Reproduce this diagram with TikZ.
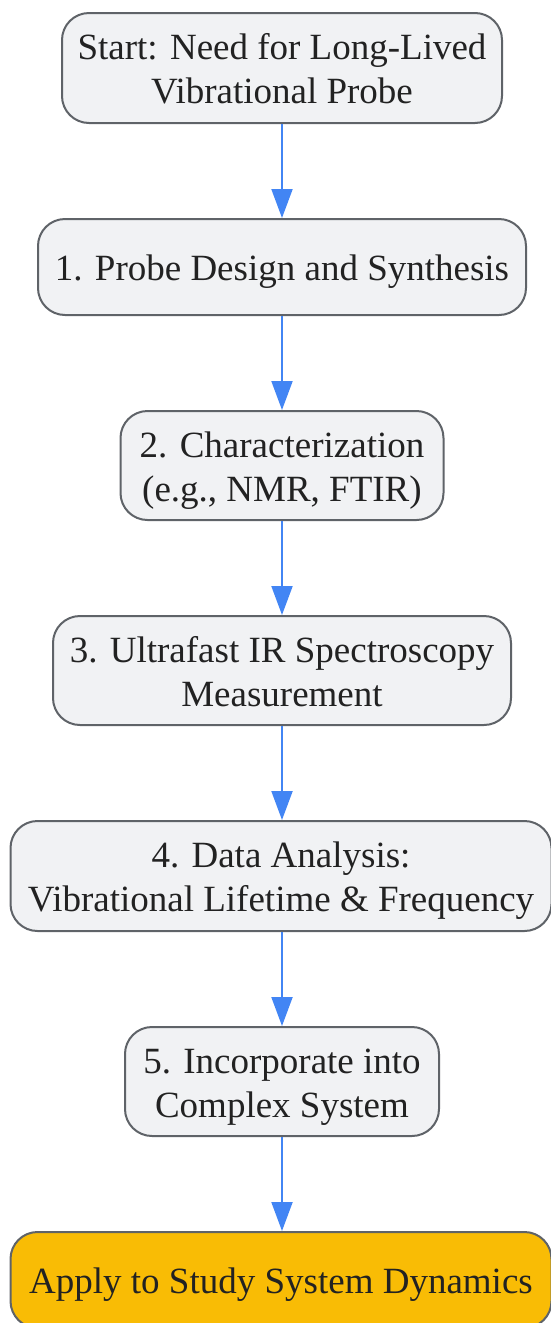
\documentclass[tikz,border=0pt]{standalone}
\usepackage{fontspec}
\setmainfont{Liberation Serif}
\usetikzlibrary{arrows.meta}
\definecolor{boxfill}{HTML}{F1F2F4}
\definecolor{boxdraw}{HTML}{5F6368}
\definecolor{arrowblue}{HTML}{4285F4}
\definecolor{finalfill}{HTML}{F9BC05}
\definecolor{textcol}{HTML}{222222}
\newcommand{\boxtxt}[1]{\raisebox{-5pt}[\height][\depth]{\begin{tabular}{@{}c@{}}#1\end{tabular}}}
\tikzset{
  flowbox/.style={draw=boxdraw, line width=2pt, fill=boxfill, rounded corners=27pt,
    align=center, inner sep=0pt, text=textcol,
    font=\fontsize{37}{44}\selectfont},
  finalbox/.style={flowbox, fill=finalfill},
  flowarrow/.style={draw=arrowblue, line width=2pt,
    -{Triangle[length=29pt,width=21pt]}}
}
\begin{document}
\begin{tikzpicture}[x=1pt,y=-1pt]
\useasboundingbox (0,0) rectangle (551,1323);
\clip (0,0) rectangle (551,1323);
\node[flowbox, minimum width=440pt, minimum height=110pt] (s) at (282,68) {\boxtxt{Start: Need for Long-Lived\\Vibrational Probe}};
\node[flowbox, minimum width=488pt, minimum height=96pt] (n1) at (282,267) {\boxtxt{1. Probe Design and Synthesis}};
\node[flowbox, minimum width=323pt, minimum height=109pt] (n2) at (282,465.5) {\boxtxt{2. Characterization\\(e.g., NMR, FTIR)}};
\node[flowbox, minimum width=458pt, minimum height=109pt] (n3) at (282,670.5) {\boxtxt{3. Ultrafast IR Spectroscopy\\Measurement}};
\node[flowbox, minimum width=541pt, minimum height=110pt] (n4) at (281,876) {\boxtxt{4. Data Analysis:\\Vibrational Lifetime \& Frequency}};
\node[flowbox, minimum width=314pt, minimum height=109pt] (n5) at (282,1081.5) {\boxtxt{5. Incorporate into\\Complex System}};
\node[finalbox, minimum width=541pt, minimum height=96pt] (f) at (281,1280) {\boxtxt{Apply to Study System Dynamics}};
\draw[flowarrow] (s.south) -- (n1.north);
\draw[flowarrow] (n1.south) -- (n2.north);
\draw[flowarrow] (n2.south) -- (n3.north);
\draw[flowarrow] (n3.south) -- (n4.north -| n3.south);
\draw[flowarrow] (n4.south -| n3.south) -- (n5.north);
\draw[flowarrow] (n5.south) -- (f.north -| n5.south);
\end{tikzpicture}
\end{document}
